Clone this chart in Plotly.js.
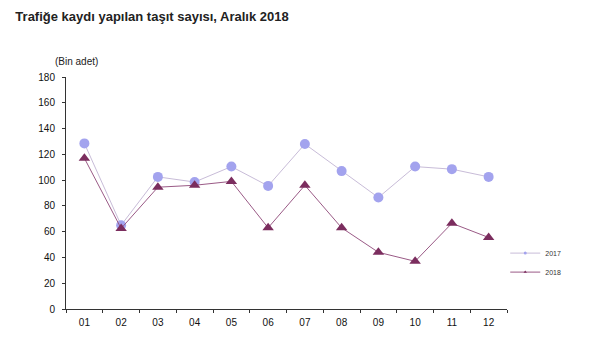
<!DOCTYPE html>
<html>
<head>
<meta charset="utf-8">
<script src="https://cdn.plot.ly/plotly-3.0.1.min.js"></script>
<style>html,body{margin:0;padding:0;background:#fff;}#chart{width:591px;height:359px;}</style>
</head>
<body>
<div id="chart"></div>
<script>
const months = ["01","02","03","04","05","06","07","08","09","10","11","12"];
const values2017 = [128.5, 65, 102.5, 98.5, 110.5, 95.5, 128, 107, 86.5, 110.5, 108.5, 102.5];
const values2018 = [117, 62.5, 94.5, 96, 99, 63, 96, 63, 44, 37, 66.5, 55.5];
const seriesNames = ["2017", "2018"];
const yTicks = [0,20,40,60,80,100,120,140,160,180];

const colors = {
  line2017: "#c8bcd8", marker2017: "#a3a3ee",
  line2018: "#9a5a86", marker2018: "#7b2d5e"
};

const traces = [
  {
    x: months, y: values2017, name: seriesNames[0], type: "scatter", mode: "lines+markers",
    line: {color: colors.line2017, width: 1},
    marker: {symbol: "circle", size: 10, color: colors.marker2017},
    showlegend: false
  },
  {
    x: months, y: values2018, name: seriesNames[1], type: "scatter", mode: "lines+markers",
    line: {color: colors.line2018, width: 1},
    marker: {symbol: "triangle-up", size: 10, color: colors.marker2018},
    showlegend: false
  },
  {
    x: [null], y: [null], name: seriesNames[0], type: "scatter", mode: "lines+markers",
    line: {color: colors.line2017, width: 1},
    marker: {symbol: "circle", size: 3, color: colors.marker2017},
    legendgroup: "a"
  },
  {
    x: [null], y: [null], name: seriesNames[1], type: "scatter", mode: "lines+markers",
    line: {color: colors.line2018, width: 1},
    marker: {symbol: "triangle-up", size: 3, color: colors.marker2018},
    legendgroup: "b"
  }
];

const layout = {
  width: 591, height: 359,
  margin: {l: 66, r: 84, t: 77, b: 50},
  paper_bgcolor: "#fff", plot_bgcolor: "#fff",
  font: {family: "Liberation Sans, Arial, sans-serif", color: "#111", size: 10},
  title: {
    text: "<b>Trafiğe kaydı yapılan taşıt sayısı, Aralık 2018</b>",
    x: 0.026, xanchor: "left", y: 0.955, yanchor: "middle",
    font: {size: 13, color: "#222"}
  },
  xaxis: {
    type: "category", range: [-0.5, 11.5], showgrid: false, zeroline: false,
    showline: true, linecolor: "#333", linewidth: 1,
    ticks: "outside", ticklen: 3, tickcolor: "#333", tickson: "boundaries",
    ticklabelstandoff: 4,
    tickfont: {size: 10, color: "#111"}
  },
  yaxis: {
    range: [0, 180], tickvals: yTicks, showgrid: false, zeroline: false,
    showline: true, linecolor: "#333", linewidth: 1,
    ticks: "outside", ticklen: 3, tickcolor: "#333",
    ticklabelstandoff: 5,
    tickfont: {size: 10, color: "#111"}
  },
  showlegend: true,
  legend: {
    x: 0.996, xanchor: "left", y: 0.2, yanchor: "middle",
    font: {size: 7, color: "#333"}, traceorder: "grouped", tracegroupgap: 0,
    bgcolor: "rgba(0,0,0,0)", itemwidth: 30
  },
  annotations: [{
    text: "(Bin adet)", xref: "paper", yref: "paper", x: -0.03, y: 1.065,
    xanchor: "left", yanchor: "middle", showarrow: false, font: {size: 10, color: "#222"}
  }]
};

Plotly.newPlot("chart", traces, layout, {displayModeBar: false, staticPlot: true});
</script>
</body>
</html>
